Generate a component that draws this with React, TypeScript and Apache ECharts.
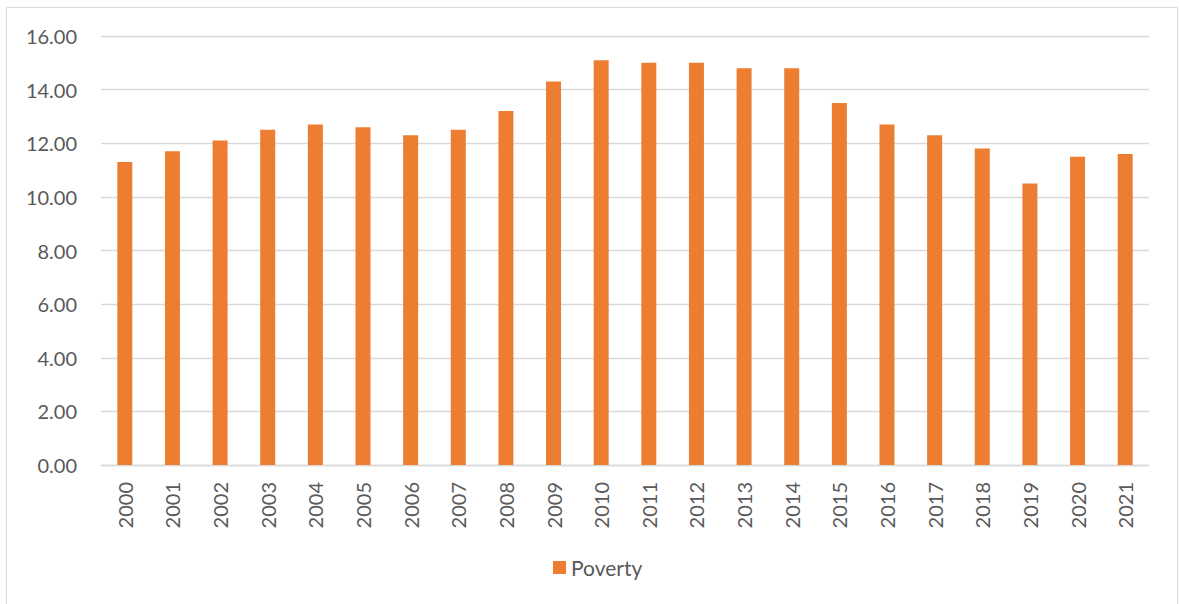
import React, { useEffect, useRef } from "react";
import * as echarts from "echarts";

const years = [
  "2000", "2001", "2002", "2003", "2004", "2005", "2006", "2007", "2008", "2009", "2010",
  "2011", "2012", "2013", "2014", "2015", "2016", "2017", "2018", "2019", "2020", "2021",
];
const poverty = [
  11.3, 11.7, 12.1, 12.5, 12.7, 12.6, 12.3, 12.5, 13.2, 14.3, 15.1,
  15.0, 15.0, 14.8, 14.8, 13.5, 12.7, 12.3, 11.8, 10.5, 11.5, 11.6,
];
const seriesName = "Poverty";

export default function App() {
  const ref = useRef<HTMLDivElement>(null);
  useEffect(() => {
    if (!ref.current) return;
    const chart = echarts.init(ref.current, undefined, { renderer: "svg" });
    const font = "Lato, 'Open Sans', sans-serif";
    chart.setOption({
      animation: false,
      backgroundColor: "#ffffff",
      graphic: [
        {
          type: "rect",
          shape: { x: 6.5, y: 7.5, width: 1171, height: 610 },
          style: { fill: "none", stroke: "#d9d9d9", lineWidth: 1 },
          silent: true,
        },
      ],
      grid: { left: 101, right: 30, top: 36, bottom: 139, containLabel: false },
      xAxis: {
        type: "category",
        data: years,
        axisTick: { show: false },
        axisLine: { lineStyle: { color: "#d9d9d9", width: 1.3 } },
        axisLabel: {
          rotate: 90,
          margin: 17,
          color: "#595959",
          fontSize: 20,
          fontFamily: font,
        },
      },
      yAxis: {
        type: "value",
        min: 0,
        max: 16,
        interval: 2,
        axisLine: { show: false },
        axisTick: { show: false },
        splitLine: { lineStyle: { color: "#d9d9d9", width: 1.3 } },
        axisLabel: {
          margin: 24,
          color: "#595959",
          fontSize: 20,
          fontFamily: font,
          formatter: (v: number) => v.toFixed(2),
        },
      },
      legend: {
        data: [seriesName],
        left: 548,
        top: 552,
        icon: "rect",
        itemWidth: 13,
        itemHeight: 13,
        itemGap: 6,
        textStyle: { color: "#595959", fontSize: 21, fontFamily: font },
      },
      series: [
        {
          name: seriesName,
          type: "bar",
          data: poverty,
          barWidth: 15,
          itemStyle: { color: "#ED7D31" },
        },
      ],
    });
    return () => chart.dispose();
  }, []);
  return (
    <div
      ref={ref}
      style={{ position: "fixed", left: 0, top: 0, width: 1179, height: 604 }}
    />
  );
}
